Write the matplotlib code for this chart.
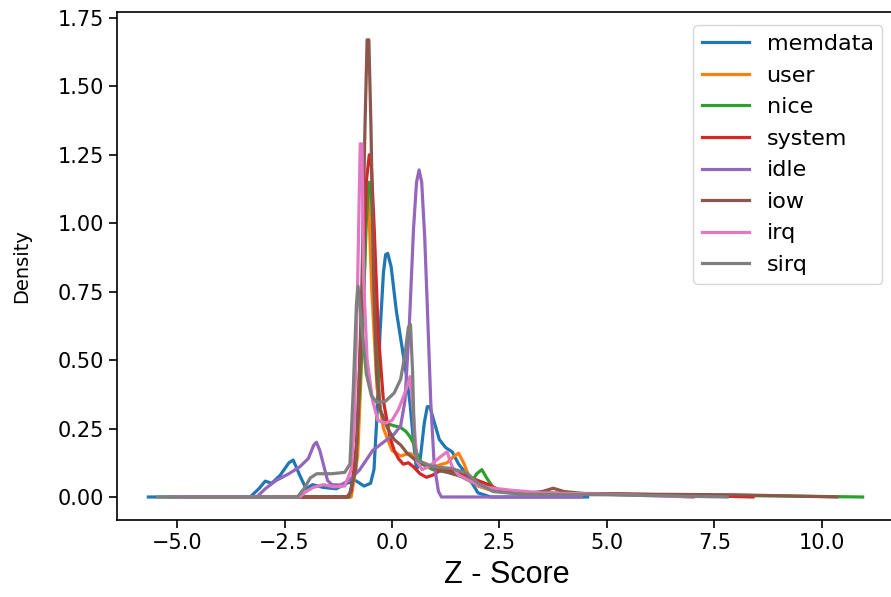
import matplotlib
matplotlib.use("Agg")
import matplotlib.pyplot as plt

# Density curves (x = z-score, y = density)
memdata_x = [-5.67, -3.3, -3.1, -2.95, -2.8, -2.6, -2.4, -2.3, -2.15, -2.0, -1.85, -1.6, -1.3, -1.05,
             -0.85, -0.65, -0.5, -0.42, -0.35, -0.28, -0.2, -0.15, -0.1, -0.02, 0.1, 0.2, 0.32, 0.42,
             0.5, 0.57, 0.65, 0.75, 0.82, 0.88, 0.97, 1.1, 1.25, 1.4, 1.55, 1.75, 2.0, 2.3, 4.55]
memdata_y = [0, 0, 0.03, 0.058, 0.05, 0.08, 0.125, 0.135, 0.08, 0.03, 0.045, 0.035, 0.03, 0.05,
             0.06, 0.04, 0.05, 0.1, 0.3, 0.6, 0.82, 0.885, 0.89, 0.84, 0.68, 0.58, 0.46, 0.34,
             0.2, 0.1, 0.13, 0.27, 0.33, 0.33, 0.28, 0.21, 0.18, 0.165, 0.12, 0.08, 0.015, 0.0, 0.0]

user_x = [-4.2, -0.95, -0.8, -0.68, -0.6, -0.55, -0.47, -0.35, -0.2, 0.0, 0.2, 0.42, 0.65, 0.95,
          1.28, 1.45, 1.55, 1.68, 1.8, 2.0, 2.3, 3.0, 4.5, 6.0, 7.0]
user_y = [0, 0, 0.15, 0.6, 1.08, 1.1, 0.75, 0.4, 0.25, 0.17, 0.15, 0.16, 0.13, 0.11,
          0.125, 0.15, 0.16, 0.12, 0.07, 0.04, 0.025, 0.015, 0.012, 0.008, 0]

nice_x = [-4.98, -1.0, -0.85, -0.7, -0.6, -0.54, -0.49, -0.44, -0.36, -0.28, -0.15, 0.05, 0.19,
          0.32, 0.42, 0.52, 0.6, 0.7, 0.95, 1.3, 1.6, 1.85, 1.97, 2.09, 2.2, 2.35, 2.6, 3.5, 5.0,
          7.0, 9.0, 10.95]
nice_y = [0, 0, 0.1, 0.55, 1.0, 1.15, 1.14, 0.95, 0.55, 0.32, 0.27, 0.26, 0.255,
          0.24, 0.22, 0.19, 0.15, 0.12, 0.1, 0.09, 0.075, 0.055, 0.085, 0.1, 0.07, 0.035, 0.02,
          0.012, 0.01, 0.006, 0.004, 0]

system_x = [-4.13, -1.05, -0.95, -0.82, -0.7, -0.6, -0.53, -0.49, -0.42, -0.32, -0.2, -0.05, 0.05,
            0.15, 0.26, 0.38, 0.5, 0.65, 0.8, 0.95, 1.1, 1.3, 1.5, 1.75, 2.0, 2.25, 2.5, 3.2, 5.0,
            7.0, 8.4]
system_y = [0, 0, 0.02, 0.2, 0.7, 1.15, 1.25, 1.24, 1.0, 0.6, 0.35, 0.22, 0.17,
            0.14, 0.12, 0.125, 0.11, 0.085, 0.072, 0.08, 0.095, 0.1, 0.09, 0.075, 0.06, 0.045,
            0.025, 0.015, 0.012, 0.006, 0]

idle_x = [-5.2, -3.15, -2.95, -2.7, -2.4, -2.15, -1.95, -1.82, -1.76, -1.68, -1.5, -1.4, -1.2,
          -1.0, -0.75, -0.45, -0.2, 0.05, 0.2, 0.3, 0.4, 0.5, 0.57, 0.63, 0.69, 0.76, 0.82, 0.9,
          0.98, 1.08, 1.15, 4.4]
idle_y = [0, 0, 0.03, 0.06, 0.085, 0.11, 0.14, 0.19, 0.2, 0.17, 0.06, 0.045, 0.044,
          0.06, 0.1, 0.17, 0.2, 0.23, 0.26, 0.35, 0.62, 0.98, 1.15, 1.195, 1.15, 0.95, 0.7,
          0.35, 0.12, 0.02, 0, 0]

iow_x = [-4.78, -1.0, -0.85, -0.77, -0.7, -0.63, -0.58, -0.54, -0.49, -0.43, -0.36, -0.28, -0.1,
         0.05, 0.2, 0.35, 0.58, 0.95, 1.3, 1.74, 2.1, 2.5, 3.2, 3.5, 3.75, 4.0, 4.5, 6.0, 8.0, 10.35]
iow_y = [0, 0, 0.1, 0.4, 0.79, 1.35, 1.67, 1.67, 1.35, 0.79, 0.45, 0.32, 0.25,
         0.21, 0.19, 0.16, 0.13, 0.108, 0.09, 0.073, 0.04, 0.025, 0.015, 0.02, 0.032, 0.02,
         0.012, 0.01, 0.008, 0]

irq_x = [-5.0, -2.15, -2.0, -1.83, -1.6, -1.35, -1.1, -0.95, -0.88, -0.8, -0.74, -0.7, -0.66,
         -0.58, -0.45, -0.33, -0.15, 0.0, 0.15, 0.3, 0.42, 0.5, 0.58, 0.7, 0.85, 1.0, 1.15, 1.28,
         1.4, 1.55, 1.8, 2.1, 2.75, 3.5, 5.0, 7.0]
irq_y = [0, 0, 0.02, 0.035, 0.045, 0.037, 0.04, 0.1, 0.25, 0.79, 1.29, 1.29, 0.79,
         0.5, 0.35, 0.28, 0.27, 0.28, 0.32, 0.38, 0.44, 0.3, 0.13, 0.1, 0.11, 0.13, 0.15, 0.165,
         0.11, 0.08, 0.06, 0.037, 0.025, 0.015, 0.01, 0]

sirq_x = [-5.45, -2.2, -2.05, -1.9, -1.75, -1.4, -1.1, -0.98, -0.9, -0.83, -0.79, -0.72, -0.6,
          -0.48, -0.35, -0.15, 0.05, 0.2, 0.3, 0.38, 0.43, 0.48, 0.52, 0.58, 0.95, 1.35, 1.74,
          2.0, 2.35, 3.0, 5.0, 7.8]
sirq_y = [0, 0, 0.03, 0.07, 0.085, 0.085, 0.09, 0.12, 0.4, 0.7, 0.77, 0.65, 0.45,
          0.37, 0.345, 0.35, 0.38, 0.43, 0.52, 0.62, 0.63, 0.45, 0.2, 0.135, 0.11, 0.105, 0.088,
          0.05, 0.02, 0.01, 0.008, 0]

series = [
    ("memdata", memdata_x, memdata_y),
    ("user", user_x, user_y),
    ("nice", nice_x, nice_y),
    ("system", system_x, system_y),
    ("idle", idle_x, idle_y),
    ("iow", iow_x, iow_y),
    ("irq", irq_x, irq_y),
    ("sirq", sirq_x, sirq_y),
]

fig = plt.figure(figsize=(8.91, 5.97), dpi=100)
# the right spine sits just past the picture's edge, as in the screenshot
ax = fig.add_axes([0.1313, 0.129, 0.874, 0.851])

for name, xs, ys in series:
    ax.plot(xs, ys, label=name, linewidth=2.3)

ax.set_xlim(-6.4, 11.72)
ax.set_ylim(-0.084, 1.772)
ax.set_xticks([-5.0, -2.5, 0.0, 2.5, 5.0, 7.5, 10.0])
ax.set_yticks([0.0, 0.25, 0.5, 0.75, 1.0, 1.25, 1.5, 1.75])
ax.tick_params(labelsize=15, length=6, width=1.2)
for s in ax.spines.values():
    s.set_linewidth(1.2)

ax.set_ylabel("Density", fontsize=14)
ax.yaxis.set_label_coords(-0.11, 0.5)
ax.set_xlabel("Z - Score", fontsize=22, family="Liberation Sans")
ax.xaxis.set_label_coords(0.5, -0.078)
ax.legend(loc="upper right", fontsize=16, handlelength=2.1, labelspacing=0.52,
          borderaxespad=0.6)

fig.savefig("out.png", dpi=100)
